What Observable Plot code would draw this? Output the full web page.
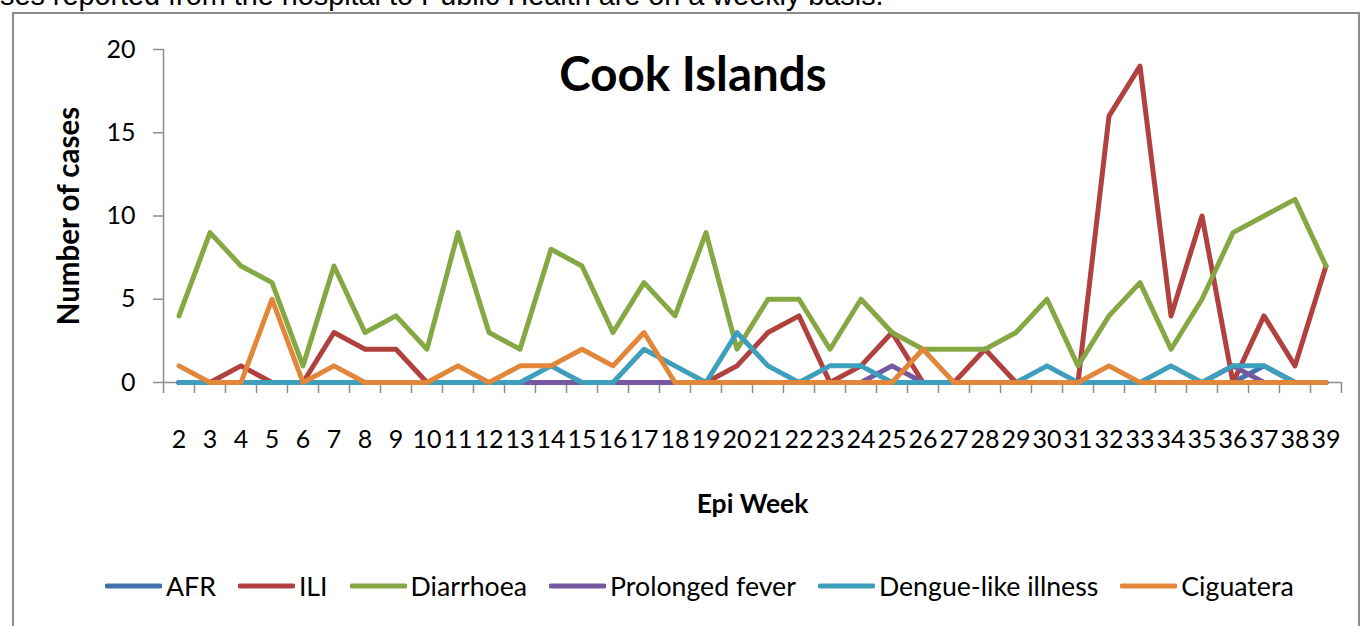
<!DOCTYPE html>
<html><head><meta charset="utf-8">
<script src="https://cdn.jsdelivr.net/npm/d3@7"></script>
<script src="https://cdn.jsdelivr.net/npm/@observablehq/plot@0.6"></script>
<style>
body{margin:0;background:#fff;}
#wrap{position:relative;width:1362px;height:626px;overflow:hidden;background:#fff;font-family:Lato,sans-serif;color:#000;}
#caption{position:absolute;left:0;top:-19px;font:28.8px/28.8px "Liberation Sans",Arial,sans-serif;white-space:nowrap;color:#000;}
#frame{position:absolute;left:12px;top:12px;width:1348px;height:700px;border:2px solid #8c8c8c;box-sizing:border-box;}
#title{position:absolute;left:0;width:1386px;text-align:center;top:50px;font:bold 47.5px/46px Lato,sans-serif;}
#chart{position:absolute;left:0;top:0;}
#legend{position:absolute;left:105px;top:568px;height:36px;display:flex;align-items:center;font:26.7px/36px Lato,sans-serif;white-space:nowrap;}
#legend .item{display:flex;align-items:center;margin-right:22px;}
#legend svg{margin-right:4px;}
g[aria-label="x-axis label"] text{font-weight:bold;font-size:26.5px;}
g[aria-label="y-axis label"] text{font-weight:bold;font-size:29.5px;}
</style></head>
<body><div id="wrap">
<div id="caption">ses reported from the hospital to Public Health are on a weekly basis.</div>
<div id="frame"></div>
<div id="chart"></div>
<div id="title">Cook Islands</div>
<div id="legend"></div>
</div>
<script>
const weeks = [2,3,4,5,6,7,8,9,10,11,12,13,14,15,16,17,18,19,20,21,22,23,24,25,26,27,28,29,30,31,32,33,34,35,36,37,38,39];
const tickLabels = weeks.map(String);
const yTicks = [0,5,10,15,20];
const seriesNames = ["AFR","ILI","Diarrhoea","Prolonged fever","Dengue-like illness","Ciguatera"];
const seriesColors = ["#4472b0","#b0413e","#86a844","#7558a0","#3d9fbb","#e2863a"];
//            2 3 4 5 6 7 8 9 10 11 12 13 14 15 16 17 18 19 20 21 22 23 24 25 26 27 28 29 30 31 32 33 34 35 36 37 38 39
const afr =       [0,0,0,0,0,0,0,0,0, 0, 0, 0, 0, 0, 0, 0, 0, 0, 0, 0, 0, 0, 0, 0, 0, 0, 0, 0, 0, 0, 0, 0, 0, 0, 0, 1, 0, 0];
const ili =       [0,0,1,0,0,3,2,2,0, 0, 0, 0, 0, 0, 0, 0, 0, 0, 1, 3, 4, 0, 1, 3, 0, 0, 2, 0, 0, 0,16,19, 4,10, 0, 4, 1, 7];
const diarrhoea = [4,9,7,6,1,7,3,4,2, 9, 3, 2, 8, 7, 3, 6, 4, 9, 2, 5, 5, 2, 5, 3, 2, 2, 2, 3, 5, 1, 4, 6, 2, 5, 9,10,11, 7];
const prolonged = [0,0,0,0,0,0,0,0,0, 0, 0, 0, 0, 0, 0, 0, 0, 0, 0, 0, 0, 0, 0, 1, 0, 0, 0, 0, 0, 0, 0, 0, 0, 0, 1, 0, 0, 0];
const dengue =    [0,0,0,0,0,0,0,0,0, 0, 0, 0, 1, 0, 0, 2, 1, 0, 3, 1, 0, 1, 1, 0, 0, 0, 0, 0, 1, 0, 0, 0, 1, 0, 1, 1, 0, 0];
const ciguatera = [1,0,0,5,0,1,0,0,0, 1, 0, 1, 1, 2, 1, 3, 0, 0, 0, 0, 0, 0, 0, 0, 2, 0, 0, 0, 0, 0, 1, 0, 0, 0, 0, 0, 0, 0];

const seriesValues = [afr, ili, diarrhoea, prolonged, dengue, ciguatera];
const rows = seriesNames.flatMap((s, i) => seriesValues[i].map((v, j) => ({week: weeks[j], value: v, series: s})));
const xMin = weeks[0] - 0.5, xMax = weeks[weeks.length - 1] + 0.5;
const boundaries = [...weeks.map(w => w - 0.5), xMax];
const axisGray = "#8c8c8c";

const chart = Plot.plot({
  width: 1362, height: 540,
  marginLeft: 163, marginRight: 21, marginTop: 49, marginBottom: 158,
  style: {fontFamily: "Lato, sans-serif", fontSize: "25px", color: "#000", background: "transparent", overflow: "visible"},
  x: {type: "linear", domain: [xMin, xMax]},
  y: {domain: [0, 20]},
  color: {domain: seriesNames, range: seriesColors},
  marks: [
    Plot.ruleX([xMin], {stroke: axisGray, strokeWidth: 1.5}),
    Plot.ruleY([0], {stroke: axisGray, strokeWidth: 1.5}),
    Plot.axisY({ticks: yTicks, tickSize: 10, tickPadding: 18, stroke: axisGray, strokeWidth: 1.5, fontSize: 25,
      label: "Number of cases", labelAnchor: "center", labelArrow: "none", labelOffset: 105}),
    Plot.axisX({ticks: boundaries, tickSize: 11, tickFormat: () => "", stroke: axisGray, strokeWidth: 1.5, label: null}),
    Plot.axisX({ticks: weeks, tickSize: 0, tickPadding: 48, fontSize: 25,
      tickFormat: d => tickLabels[weeks.indexOf(d)], label: "Epi Week", labelAnchor: "center", labelArrow: "none", labelOffset: 130}),
    Plot.line(rows, {x: "week", y: "value", z: "series", stroke: "series", strokeWidth: 5, strokeLinejoin: "round"})
  ]
});
document.getElementById("chart").appendChild(chart);

const legend = document.getElementById("legend");
seriesNames.forEach((s, i) => {
  const item = document.createElement("div");
  item.className = "item";
  item.innerHTML = `<svg width="57" height="8"><line x1="2" y1="4" x2="55" y2="4" stroke="${seriesColors[i]}" stroke-width="5" stroke-linecap="round"/></svg><span>${s}</span>`;
  legend.appendChild(item);
});
</script>
</body></html>
